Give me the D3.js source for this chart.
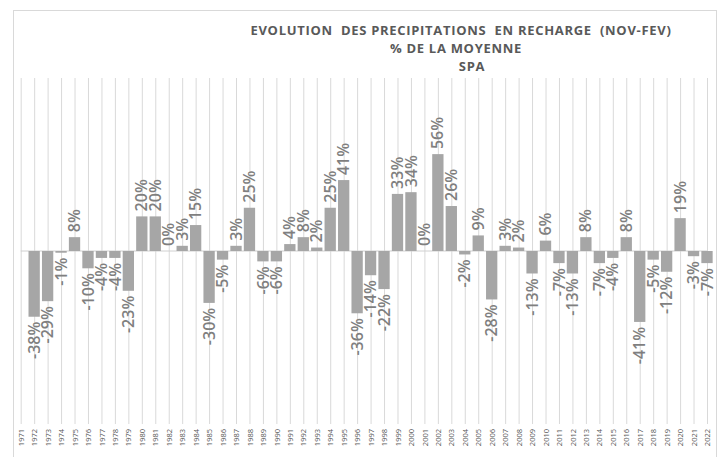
<!DOCTYPE html>
<html>
<head>
<meta charset="utf-8">
<script src="https://cdn.jsdelivr.net/npm/d3@7"></script>
<style>
html, body {
  margin: 0;
  padding: 0;
  background: #fff;
  overflow: hidden;
}
.grid line { stroke: #d9d9d9; }
.grid text { fill: #595959; font: 7.5px "Open Sans", sans-serif; }
.lbl { fill: #7f7f7f; font: 600 16px "Open Sans", sans-serif; }
.title { fill: #595959; font: bold 13px "Open Sans", sans-serif; text-anchor: middle; letter-spacing: 0.7px; }
</style>
</head>
<body>
<script>

// years on the category axis (1971 has no value)
var years = d3.range(1971, 2023);
var values = [null, -38, -29, -1, 8, -10, -4, -4, -23, 20, 20, 0, 3, 15, -30, -5, 3, 25,
  -6, -6, 4, 8, 2, 25, 41, -36, -14, -22, 33, 34, 0, 56, 26, -2, 9, -28, 3, 2, -13,
  6, -7, -13, 8, -7, -4, 8, -41, -5, -12, 19, -3, -7];
var titleLines = ["EVOLUTION  DES PRECIPITATIONS  EN RECHARGE  (NOV-FEV)", "% DE LA MOYENNE", "SPA"];

var w = 723, h = 457;
var svg = d3.select('body').append('svg')
  .attr('width', w)
  .attr('height', h);

var data = years.map(function(y, i){ return {year: y, v: values[i]}; });

var x = d3.scalePoint().domain(years).range([20.7, 707]);
var y = d3.scaleLinear().domain([-100, 100]).range([424, 78]);
var bw = 11.3;

// chart frame
svg.append('rect')
  .attr('x', 13.5).attr('y', 10.5)
  .attr('width', 703).attr('height', 460)
  .attr('fill', 'none')
  .attr('stroke', '#d9d9d9');

// title
svg.selectAll('.title').data(titleLines).enter().append('text')
  .attr('class', 'title')
  .attr('x', function(d, i){ return [461, 456, 472][i]; })
  .attr('y', function(d, i){ return [35, 53, 71][i]; })
  .attr('xml:space', 'preserve')
  .text(function(d){ return d; });

// vertical gridlines + year labels
var grid = svg.append('g')
  .attr('class', 'grid')
  .attr('transform', 'translate(0,' + y(-100) + ')')
  .call(d3.axisBottom(x).tickSize(-(y(-100) - y(100))));
grid.select('.domain').remove();
grid.selectAll('text')
  .attr('y', 0)
  .attr('x', -5)
  .attr('dy', '0.35em')
  .attr('transform', 'rotate(-90)')
  .style('text-anchor', 'end');

// zero line
svg.append('line')
  .attr('x1', x(1971)).attr('x2', x(2022))
  .attr('y1', y(0)).attr('y2', y(0))
  .attr('stroke', '#d0d0d0');

var valid = data.filter(function(d){ return d.v !== null; });

svg.selectAll('rect.bar').data(valid).enter().append('rect')
  .attr('class', 'bar')
  .attr('x', function(d){ return x(d.year) - bw / 2; })
  .attr('width', bw)
  .attr('y', function(d){ return y(Math.max(0, d.v)); })
  .attr('height', function(d){ return Math.abs(y(d.v) - y(0)); })
  .attr('fill', '#a6a6a6');

svg.selectAll('text.lbl').data(valid).enter().append('text')
  .attr('class', 'lbl')
  .attr('dy', '0.35em')
  .attr('text-anchor', function(d){ return d.v < 0 ? 'end' : 'start'; })
  .attr('transform', function(d){
    var ty = d.v < 0 ? y(d.v) + 5 : y(d.v) - 5;
    return 'translate(' + x(d.year) + ',' + ty + ') rotate(-90)';
  })
  .text(function(d){ return d.v + '%'; });

</script>
</body>
</html>
